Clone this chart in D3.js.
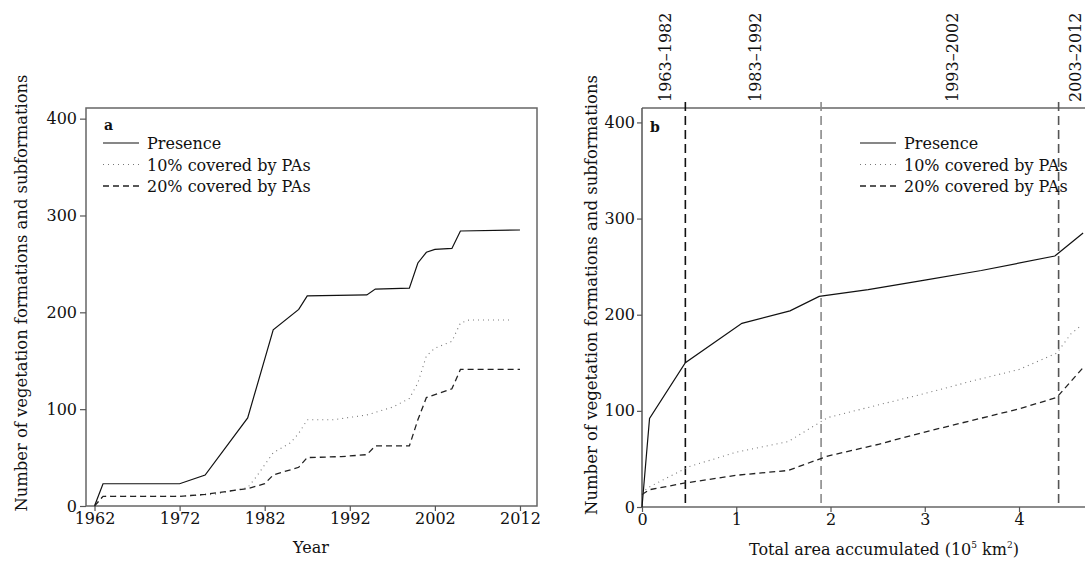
<!DOCTYPE html>
<html>
<head>
<meta charset="utf-8">
<script src="https://cdn.jsdelivr.net/npm/d3@7"></script>
<style>
  body { margin: 0; background: #fff; }
  svg text { font-family: "DejaVu Serif", "Liberation Serif", serif; fill: #111; }
</style>
</head>
<body>
<svg id="chart" width="1085" height="564"></svg>
<script>
// panel a: year vs number of formations
const yearsPresence = [1962, 1963, 1972, 1975, 1980, 1983, 1986, 1987, 1994, 1995, 1999, 2000, 2001, 2002, 2004, 2005, 2012];
const presenceA = [0, 23, 23, 32, 91, 182, 203, 217, 218, 224, 225, 251, 262, 265, 266, 284, 285];
const years10 = [1962, 1963, 1972, 1976, 1980, 1981, 1983, 1985, 1986, 1987, 1990, 1994, 1997, 1999, 2000, 2001, 2002, 2004, 2005, 2006, 2011];
const cover10A = [0, 10, 10, 12, 19, 30, 55, 65, 75, 89, 89, 94, 102, 111, 127, 155, 163, 170, 189, 192, 192];
const years20 = [1962, 1963, 1972, 1975, 1980, 1982, 1983, 1986, 1987, 1991, 1994, 1995, 1999, 2000, 2001, 2004, 2005, 2012];
const cover20A = [0, 10, 10, 12, 18, 23, 32, 40, 50, 51, 53, 62, 62, 89, 112, 121, 141, 141];

// panel b: accumulated area (10^5 km2) vs number of formations
const areaPresence = [0, 0.08, 0.46, 1.06, 1.57, 1.88, 2.4, 3.0, 3.6, 4.38, 4.68];
const presenceB = [0, 92, 150, 191, 204, 219, 226, 236, 246, 261, 285];
const area10 = [0, 0.06, 0.5, 1.0, 1.55, 1.97, 2.5, 3.0, 3.5, 4.0, 4.4, 4.55, 4.65];
const cover10B = [14, 20, 42, 57, 68, 93, 106, 118, 131, 143, 160, 180, 188];
const area20 = [0, 0.08, 0.46, 1.0, 1.55, 1.97, 2.5, 3.0, 3.5, 4.0, 4.4, 4.68];
const cover20B = [13, 18, 25, 33, 38, 53, 65, 78, 90, 102, 114, 145];

const periodLabels = ["1963\u20131982", "1983\u20131992", "1993\u20132002", "2003\u20132012"];
const periodLabelAt = [0.24, 1.2, 3.29, 4.59];
const periodBreaks = [0.46, 1.9, 4.42];
const breakColors = ["#111", "#8a8a8a", "#555"];

const seriesNames = ["Presence", "10% covered by PAs", "20% covered by PAs"];
const yTicks = [0, 100, 200, 300, 400];
const yearTicks = [1962, 1972, 1982, 1992, 2002, 2012];
const areaTicks = [0, 1, 2, 3, 4];

const styles = [
  { stroke: "#111", dash: null, width: 1.2 },
  { stroke: "#777", dash: "1,4", width: 1.1 },
  { stroke: "#222", dash: "6,4", width: 1.3 }
];

const svg = d3.select("#chart");
const fs = 16;
const yTitle = "Number of vegetation formations and subformations";

function zip(xs, ys) { return xs.map((x, i) => [x, ys[i]]); }

function styleAxis(g) {
  g.selectAll(".domain").remove();
  g.selectAll(".tick line").attr("stroke", "#555").attr("stroke-width", 1.2);
  g.selectAll(".tick text").style("font-size", fs + "px").attr("fill", "#111");
}

function legend(x0, y0) {
  seriesNames.forEach((name, i) => {
    const y = y0 + i * 21.5;
    svg.append("line")
      .attr("x1", x0).attr("x2", x0 + 36).attr("y1", y).attr("y2", y)
      .attr("stroke", styles[i].stroke).attr("stroke-width", styles[i].width)
      .attr("stroke-dasharray", styles[i].dash);
    svg.append("text")
      .attr("x", x0 + 44).attr("y", y + 6)
      .style("font-size", "16px")
      .text(name);
  });
}

function drawSeries(x, y, sets) {
  const line = d3.line().x(d => x(d[0])).y(d => y(d[1]));
  sets.forEach((pts, i) => {
    svg.append("path")
      .datum(pts)
      .attr("d", line)
      .attr("fill", "none")
      .attr("stroke", styles[i].stroke)
      .attr("stroke-width", styles[i].width)
      .attr("stroke-dasharray", styles[i].dash);
  });
}

// ---------- panel a ----------
{
  const x = d3.scaleLinear().domain([1961, 2014]).range([86, 537]);
  const y = d3.scaleLinear().domain([0, 411]).range([506, 108]);

  svg.append("rect")
    .attr("x", 86).attr("y", 108).attr("width", 451).attr("height", 398)
    .attr("fill", "none").attr("stroke", "#666").attr("stroke-width", 1.5);

  svg.append("g").attr("transform", "translate(86,0)")
    .call(d3.axisLeft(y).tickValues(yTicks).tickSize(6).tickPadding(3))
    .call(styleAxis);
  svg.append("g").attr("transform", "translate(0,506)")
    .call(d3.axisBottom(x).tickValues(yearTicks).tickFormat(d3.format("d")).tickSize(5).tickPadding(2))
    .call(styleAxis);

  drawSeries(x, y, [zip(yearsPresence, presenceA), zip(years10, cover10A), zip(years20, cover20A)]);

  svg.append("text").attr("x", 104).attr("y", 130)
    .style("font-size", "14px").style("font-weight", "bold").text("a");
  legend(103, 143);

  svg.append("text")
    .attr("x", 311).attr("y", 553)
    .attr("text-anchor", "middle")
    .style("font-size", fs + "px")
    .text("Year");

  svg.append("text")
    .attr("transform", "rotate(-90)")
    .attr("x", -293).attr("y", 27)
    .attr("text-anchor", "middle")
    .style("font-size", fs + "px")
    .attr("textLength", 437)
    .attr("lengthAdjust", "spacingAndGlyphs")
    .text(yTitle);
}

// ---------- panel b ----------
{
  const x = d3.scaleLinear().domain([0, 4.7]).range([642, 1085]);
  const y = d3.scaleLinear().domain([0, 415]).range([507, 108]);

  svg.append("line").attr("x1", 642).attr("x2", 1085).attr("y1", 108).attr("y2", 108)
    .attr("stroke", "#666").attr("stroke-width", 1.5);
  svg.append("line").attr("x1", 642).attr("x2", 1085).attr("y1", 507).attr("y2", 507)
    .attr("stroke", "#666").attr("stroke-width", 1.5);
  svg.append("line").attr("x1", 642).attr("x2", 642).attr("y1", 108).attr("y2", 507)
    .attr("stroke", "#555").attr("stroke-width", 1.5);

  svg.append("g").attr("transform", "translate(642,0)")
    .call(d3.axisLeft(y).tickValues(yTicks).tickSize(5).tickPadding(2))
    .call(styleAxis);
  svg.append("g").attr("transform", "translate(0,507)")
    .call(d3.axisBottom(x).tickValues(areaTicks).tickFormat(d3.format("d")).tickSize(5).tickPadding(2))
    .call(styleAxis);

  svg.selectAll(".period-break")
    .data(periodBreaks)
    .enter()
    .append("line")
    .attr("class", "period-break")
    .attr("x1", d => x(d)).attr("x2", d => x(d))
    .attr("y1", 102).attr("y2", 507)
    .attr("stroke", (d, i) => breakColors[i])
    .attr("stroke-width", 1.6)
    .attr("stroke-dasharray", "9,5");

  svg.selectAll(".period-label")
    .data(periodLabels)
    .enter()
    .append("text")
    .attr("class", "period-label")
    .attr("transform", (d, i) => `translate(${x(periodLabelAt[i]) + 6},102) rotate(-90)`)
    .style("font-size", fs + "px")
    .text(d => d);

  drawSeries(x, y, [zip(areaPresence, presenceB), zip(area10, cover10B), zip(area20, cover20B)]);

  svg.append("text").attr("x", 650).attr("y", 132)
    .style("font-size", "14px").style("font-weight", "bold").text("b");
  legend(860, 143);

  const xt = svg.append("text")
    .attr("x", 884).attr("y", 555)
    .attr("text-anchor", "middle")
    .style("font-size", fs + "px");
  xt.append("tspan").text("Total area accumulated (10");
  xt.append("tspan").attr("dy", -7).style("font-size", "9px").text("5");
  xt.append("tspan").attr("dy", 7).text(" km");
  xt.append("tspan").attr("dy", -7).style("font-size", "9px").text("2");
  xt.append("tspan").attr("dy", 7).text(")");

  svg.append("text")
    .attr("transform", "rotate(-90)")
    .attr("x", -295).attr("y", 597)
    .attr("text-anchor", "middle")
    .style("font-size", fs + "px")
    .attr("textLength", 440)
    .attr("lengthAdjust", "spacingAndGlyphs")
    .text(yTitle);
}
</script>
</body>
</html>
